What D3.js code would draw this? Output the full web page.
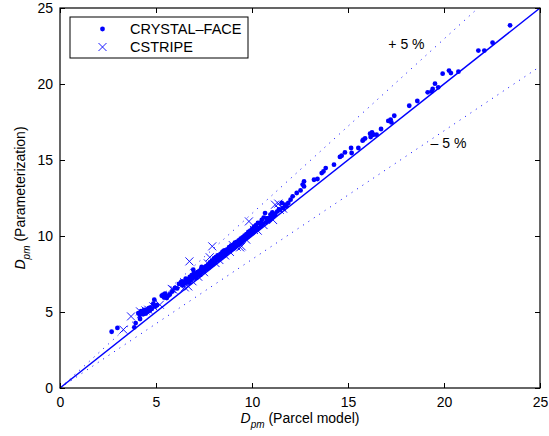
<!DOCTYPE html>
<html>
<head>
<meta charset="utf-8">
<script src="https://cdn.jsdelivr.net/npm/d3@7"></script>
<style>
  body { margin: 0; background: #fff; }
  text { font-family: "Liberation Sans", Arial, sans-serif; fill: #000; }
</style>
</head>
<body>
<div id="chart"></div>
<script>
// D_pm parameterization vs parcel model

const xTicks = [0, 5, 10, 15, 20, 25];
const yTicks = [0, 5, 10, 15, 20, 25];
const refSlopes = [1, 1.148, 0.846];   // 1:1 line and the two bounding lines
const refLabels = [{ text: "+ 5 %", x: 17.1, y: 22.3 }, { text: "\u2013 5 %", x: 19.3, y: 15.8 }];
const legendNames = ["CRYSTAL\u2013FACE", "CSTRIPE"];

const crystalFace = [
  [2.69,3.70],[2.99,3.95],[3.87,3.99],[3.94,4.27],[4.08,4.93],[4.15,4.80],[4.17,4.54],[4.22,5.05],[4.28,4.97],
  [4.33,4.85],[4.38,5.12],[4.42,5.00],[4.47,4.90],[4.52,5.16],[4.58,5.04],[4.62,5.25],[4.68,5.10],[4.72,5.31],
  [4.78,5.20],[4.86,5.55],[4.91,5.81],[4.95,5.36],[5.05,5.45],[5.30,6.07],[5.38,6.14],[5.42,5.95],[5.47,6.20],
  [5.56,5.92],[5.64,6.07],[5.72,6.15],[5.85,6.35],[5.99,6.58],[6.10,6.55],[6.20,6.85],[6.30,6.95],[6.34,7.01],
  [6.40,6.75],[6.45,7.00],[6.50,6.88],[6.55,7.20],[6.61,7.05],[6.65,7.15],[6.71,6.94],[6.76,7.31],[6.80,7.10],
  [6.86,7.42],[6.90,7.21],[6.94,7.78],[6.97,7.55],[7.02,7.33],[7.05,7.47],[7.11,7.24],[7.15,7.62],[7.21,7.49],
  [7.26,7.71],[7.31,7.44],[7.36,7.86],[7.38,7.96],[7.42,7.64],[7.46,7.92],[7.51,7.69],[7.56,7.81],[7.61,8.02],
  [7.66,7.84],[7.71,8.12],[7.76,7.93],[7.81,8.27],[7.86,8.04],[7.91,8.36],[7.96,8.14],[8.02,8.52],[8.06,8.24],
  [8.11,8.61],[8.16,8.39],[8.21,8.72],[8.26,8.44],[8.33,8.55],[8.36,8.82],[8.41,8.59],[8.46,8.96],[8.51,8.99],
  [8.52,8.68],[8.56,9.06],[8.61,8.79],[8.66,8.91],[8.71,9.12],[8.76,8.98],[8.81,9.27],[8.86,9.04],[8.91,9.36],
  [8.96,9.14],[9.01,9.42],[9.06,9.19],[9.11,9.57],[9.16,9.34],[9.21,9.62],[9.26,9.44],[9.31,9.71],[9.36,9.49],
  [9.41,9.82],[9.46,9.59],[9.51,9.91],[9.56,9.74],[9.61,10.02],[9.64,9.87],[9.66,9.84],[9.71,10.12],[9.76,9.94],
  [9.81,10.27],[9.86,10.04],[9.90,10.30],[9.92,10.36],[9.96,10.14],[10.01,10.47],[10.06,10.24],[10.11,10.62],
  [10.16,10.34],[10.21,10.72],[10.26,10.44],[10.31,10.86],[10.36,10.54],[10.42,10.86],[10.46,10.64],[10.51,11.06],
  [10.56,10.79],[10.61,11.21],[10.68,11.51],[10.71,10.89],[10.76,11.16],[10.81,10.99],[10.85,11.18],[10.91,11.04],
  [10.96,11.41],[11.01,11.19],[11.06,11.56],[11.11,11.29],[11.16,11.46],[11.21,11.39],[11.31,11.61],[11.40,11.75],
  [11.46,11.73],[11.55,12.17],[11.63,11.84],[11.72,12.06],[11.80,11.95],[11.89,12.17],[12.01,12.39],[12.12,12.61],
  [12.33,12.83],[12.53,13.00],[12.64,13.38],[12.71,13.26],[12.71,13.59],[13.23,13.70],[13.41,13.75],[13.63,14.14],
  [13.72,14.25],[13.84,14.47],[14.27,14.69],[14.58,15.20],[14.67,15.28],[14.84,15.50],[15.16,15.79],[15.19,15.46],
  [15.54,15.79],[15.76,16.27],[15.80,16.34],[15.89,16.42],[16.15,16.73],[16.18,16.51],[16.25,16.82],[16.32,16.66],
  [16.49,16.66],[16.72,17.04],[17.10,17.57],[17.22,17.65],[17.26,17.47],[17.41,17.91],[18.19,18.57],[18.61,18.88],
  [19.15,19.45],[19.35,19.50],[19.41,19.67],[19.53,20.02],[19.70,19.78],[19.93,20.68],[20.26,20.88],[20.36,20.72],
  [20.75,20.81],[21.79,22.20],[22.10,22.20],[22.53,22.72],[23.44,23.86]
];

const cstripe = [
  [3.30,3.84],[3.70,4.71],[4.17,5.04],[4.45,5.10],[4.60,5.15],[4.86,5.37],[5.20,5.48],[5.82,6.52],[5.90,6.47],
  [6.30,6.70],[6.50,6.62],[6.68,6.68],[6.74,8.33],[6.90,7.02],[7.20,7.32],[7.50,7.62],[7.70,8.20],[7.80,8.60],
  [7.93,9.32],[8.10,8.22],[8.30,8.42],[8.60,8.72],[8.85,8.95],[9.00,9.40],[9.20,9.30],[9.38,9.25],[9.46,9.32],
  [9.70,9.76],[9.84,10.96],[10.10,10.40],[10.30,10.35],[10.60,10.72],[11.10,11.05],[11.20,12.06],[11.37,12.13],
  [11.45,11.72],[11.55,11.90],[11.62,11.80]
];

function drawChart(targetSelector) {
  const svgWidth = 549, svgHeight = 436;
  const margin = { top: 8, right: 9, bottom: 48, left: 60 };
  const width = svgWidth - margin.left - margin.right;
  const height = svgHeight - margin.top - margin.bottom;
  const blue = "#0000ff";

  const x = d3.scaleLinear().domain([0, 25]).range([0, width]);
  const y = d3.scaleLinear().domain([0, 25]).range([height, 0]);

  const svg = d3.select(targetSelector).append("svg").attr("width", svgWidth).attr("height", svgHeight);
  const g = svg.append("g").attr("transform", `translate(${margin.left},${margin.top})`);

  // reference lines through the origin
  refSlopes.forEach((s, i) => {
    const xEnd = Math.min(25, 25 / s);
    g.append("line").attr("x1", x(0)).attr("y1", y(0)).attr("x2", x(xEnd)).attr("y2", y(xEnd * s))
      .attr("stroke", blue).attr("stroke-width", i === 0 ? 1.5 : 1)
      .attr("stroke-dasharray", i === 0 ? null : "1,5.5");
  });

  g.selectAll(".cf").data(crystalFace).enter().append("circle").attr("class", "cf")
    .attr("cx", d => x(d[0])).attr("cy", d => y(d[1])).attr("r", 2.4).attr("fill", blue);

  const cs = 4;
  g.selectAll(".cs").data(cstripe).enter().append("path").attr("class", "cs")
    .attr("d", d => `M${x(d[0]) - cs},${y(d[1]) - cs}L${x(d[0]) + cs},${y(d[1]) + cs}M${x(d[0]) - cs},${y(d[1]) + cs}L${x(d[0]) + cs},${y(d[1]) - cs}`)
    .attr("stroke", blue).attr("stroke-width", 0.9).attr("fill", "none");

  g.selectAll(".ref-label").data(refLabels).enter().append("text").attr("class", "ref-label")
    .attr("x", d => x(d.x)).attr("y", d => y(d.y)).style("font-size", "14px").text(d => d.text);

  // axes, ticks inward on all four sides
  const tickLen = 5;
  g.append("g").attr("transform", `translate(0,${height})`)
    .call(d3.axisBottom(x).tickValues(xTicks).tickSizeInner(-tickLen).tickSizeOuter(0).tickPadding(9))
    .call(a => a.select(".domain").remove());
  g.append("g")
    .call(d3.axisLeft(y).tickValues(yTicks).tickSizeInner(-tickLen).tickSizeOuter(0).tickPadding(7))
    .call(a => a.select(".domain").remove());
  g.append("g").call(d3.axisTop(x).tickValues(xTicks).tickSizeInner(-tickLen).tickSizeOuter(0).tickFormat(""))
    .call(a => a.select(".domain").remove());
  g.append("g").attr("transform", `translate(${width},0)`)
    .call(d3.axisRight(y).tickValues(yTicks).tickSizeInner(-tickLen).tickSizeOuter(0).tickFormat(""))
    .call(a => a.select(".domain").remove());
  g.selectAll(".tick text").style("font-size", "14px").style("font-family", "'Liberation Sans', Arial, sans-serif").attr("fill", "#000");
  g.selectAll(".tick line").attr("stroke", "#000");
  g.append("rect").attr("width", width).attr("height", height).attr("fill", "none").attr("stroke", "#000").attr("stroke-width", 1.2);

  // legend
  const leg = g.append("g").attr("transform", "translate(10,9)");
  leg.append("rect").attr("width", 178).attr("height", 41).attr("fill", "#fff").attr("stroke", "#000").attr("stroke-width", 1);
  leg.append("circle").attr("cx", 32.5).attr("cy", 12).attr("r", 2.4).attr("fill", blue);
  leg.append("path").attr("d", `M${32.5 - cs},${30 - cs}L${32.5 + cs},${30 + cs}M${32.5 - cs},${30 + cs}L${32.5 + cs},${30 - cs}`)
    .attr("stroke", blue).attr("stroke-width", 0.9);
  leg.selectAll(".leg-text").data(legendNames).enter().append("text").attr("class", "leg-text")
    .attr("x", 60).attr("y", (d, i) => 17 + i * 18).style("font-size", "14.5px").text(d => d);

  // axis labels
  const xl = svg.append("text").attr("x", margin.left + width / 2).attr("y", 423).attr("text-anchor", "middle").style("font-size", "14px");
  xl.append("tspan").style("font-style", "italic").text("D");
  xl.append("tspan").style("font-style", "italic").style("font-size", "10px").attr("dy", 5).text("pm");
  xl.append("tspan").attr("dy", -5).text(" (Parcel model)");

  const yl = svg.append("text").attr("transform", `translate(25,${margin.top + height / 2}) rotate(-90)`).attr("text-anchor", "middle").style("font-size", "14px");
  yl.append("tspan").style("font-style", "italic").text("D");
  yl.append("tspan").style("font-style", "italic").style("font-size", "10px").attr("dy", 5).text("pm");
  yl.append("tspan").attr("dy", -5).text(" (Parameterization)");
}

drawChart("#chart");
</script>
</body>
</html>
